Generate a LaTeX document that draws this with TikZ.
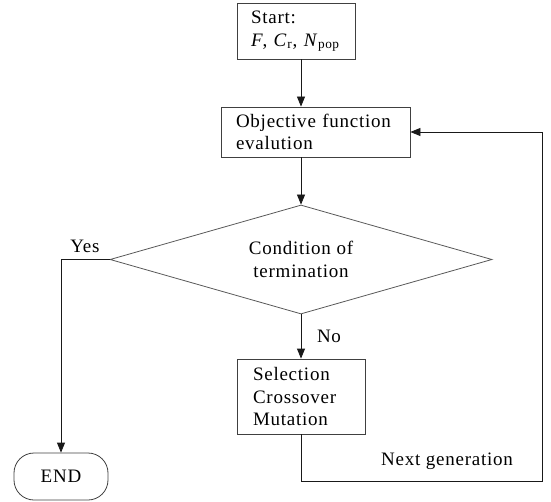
\documentclass[tikz,border=0pt]{standalone}
\usepackage{fontspec}
\setmainfont[LetterSpace=4]{Liberation Serif}
\usepackage{tikz}
\usetikzlibrary{arrows.meta,positioning,shapes.geometric}

\begin{document}
\begin{tikzpicture}[x=0.5pt, y=-0.5pt,
        caixa/.style={draw=black!75, align=left, font=\fontsize{9.5}{11.2}\selectfont, minimum height=25pt},
        losango/.style={draw=black!65, diamond, aspect=3.5, inner sep=0pt, minimum width=191pt, minimum height=54.5pt, align=center, font=\fontsize{9.5}{11.2}\selectfont},
        terminal/.style={draw=black!75, rounded corners=10pt, minimum width=47pt, minimum height=23.5pt, font=\fontsize{9.5}{11.2}\selectfont},
        rotulo/.style={font=\fontsize{9.5}{11.2}\selectfont},
        seta/.style={-{Triangle[length=5pt,width=4pt]}, black!90}
    ]
        \useasboundingbox (0,0) rectangle (551,502);

        \node[caixa, text width=45pt, inner xsep=7pt, minimum height=28pt] (inicio) at (296,31) {Start:\\ \mbox{\textit{F}, \textit{C}\textsubscript{r}, \textit{N}\textsubscript{pop}}};
        \node[caixa, text width=79.5pt, inner xsep=7.5pt] (objetivo) at (315.5,132) {Objective function\\evalution};
        \node[losango] (condicao) at (301,259.5) {Condition of\\termination};
        \node[caixa, text width=48pt, inner xsep=8pt, minimum height=37.5pt] (operadores) at (301,396.5) {Selection\\Crossover\\Mutation};
        \node[terminal] (fim) at (61,476.5) {END};
        \coordinate (retorno) at (542,481);

        \draw[seta] (inicio.south -| condicao.north) -- (objetivo.north -| condicao.north);
        \draw[seta] (objetivo.south -| condicao.north) -- (condicao.north);
        \draw[seta] (condicao.west) -| (fim.north);
        \draw[seta] (condicao.south) -- (operadores.north);
        \draw[seta] (operadores.south) |- (retorno) |- (objetivo.east);

        \node[rotulo] (sim) at (85,246) {Yes};
        \node[rotulo] (nao) at (329,336) {No};
        \node[rotulo] (proxima) at (447,461) {Next generation};

    \end{tikzpicture}
\end{document}
